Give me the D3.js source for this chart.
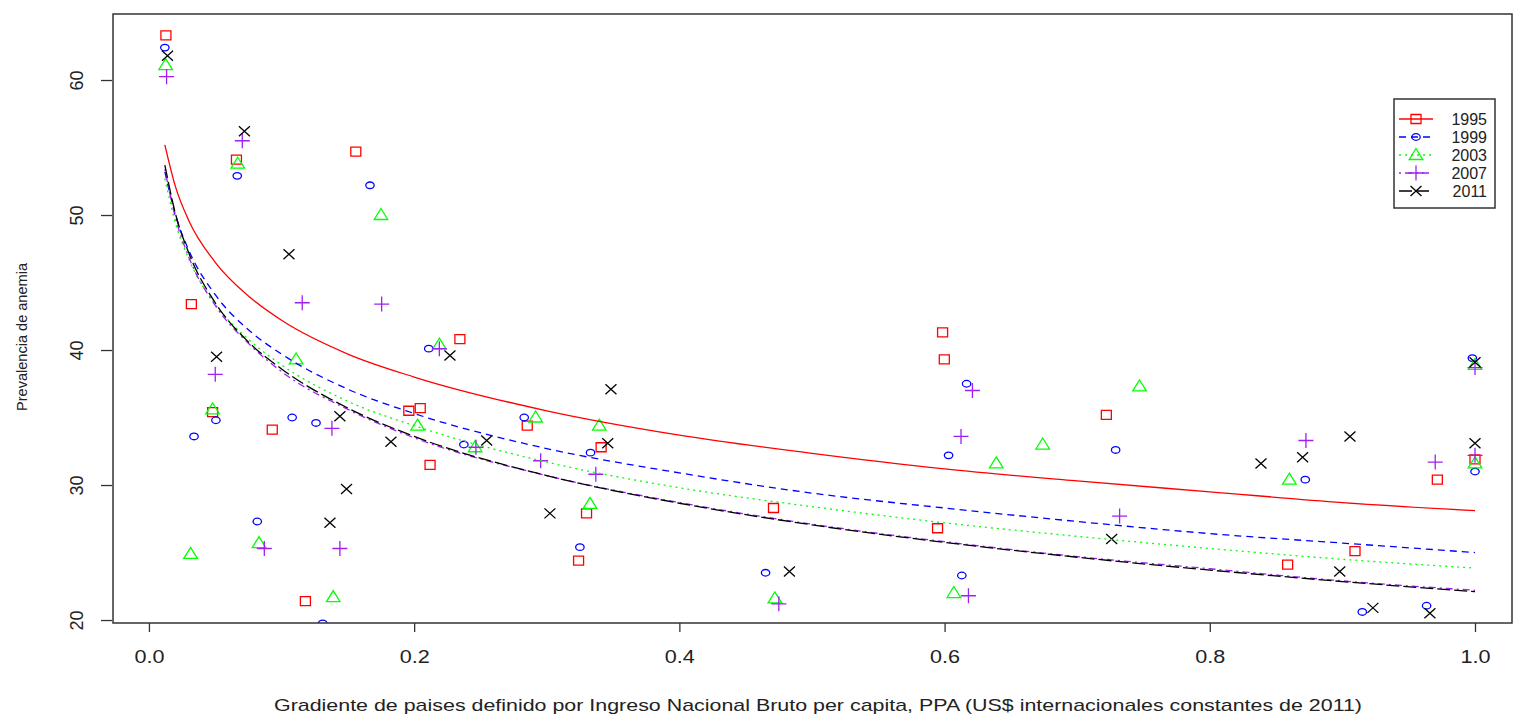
<!DOCTYPE html>
<html>
<head>
<meta charset="utf-8">
<script src="https://cdn.jsdelivr.net/npm/d3@7"></script>
<style>
  body { margin: 0; background: #fff; }
  text { font-family: "Liberation Sans", Arial, sans-serif; fill: #222; }
</style>
</head>
<body>
<svg id="chart" width="1514" height="718"></svg>
<script>
// series names, colours and line styles
var years = ['1995', '1999', '2003', '2007', '2011'];
var colors = ['#ff0000', '#0000ff', '#00ff00', '#a020f0', '#000000'];
var dashes = [null, '7,5', '2,4', '2,4,7,4', '13,4'];
var shapes = ['square', 'circle', 'triangle', 'plus', 'cross'];

// observed points per year (gradient, prevalence)
var x1995 = [0.0128, 0.032, 0.048, 0.066, 0.093, 0.118, 0.156, 0.196, 0.2046, 0.212, 0.2345, 0.2853,
  0.324, 0.330, 0.341, 0.471, 0.5947, 0.5985, 0.5998, 0.722, 0.8587, 0.9095, 0.9716, 1.0];
var y1995 = [63.3, 43.4, 35.4, 54.1, 34.1, 21.4, 54.7, 35.5, 35.7, 31.5, 40.8, 34.4,
  24.4, 27.9, 32.8, 28.3, 26.8, 41.3, 39.3, 35.2, 24.1, 25.1, 30.4, 31.9];

var x1999 = [0.012, 0.034, 0.0505, 0.0666, 0.0817, 0.108, 0.126, 0.131, 0.1667, 0.211, 0.2375, 0.283,
  0.325, 0.333, 0.465, 0.603, 0.613, 0.6166, 0.729, 0.872, 0.915, 0.9635, 0.998, 1.0];
var y1999 = [62.4, 33.6, 34.8, 52.9, 27.3, 35.0, 34.6, 19.75, 52.2, 40.1, 33.0, 35.0,
  25.4, 32.4, 23.5, 32.2, 23.3, 37.5, 32.6, 30.4, 20.6, 21.06, 39.4, 31.0];

var x2003 = [0.0126, 0.0314, 0.048, 0.067, 0.083, 0.111, 0.139, 0.175, 0.2026, 0.219, 0.246,
  0.2916, 0.3326, 0.3396, 0.472, 0.607, 0.639, 0.674, 0.747, 0.86, 1.0, 1.0];
var y2003 = [61.1, 24.9, 35.6, 53.8, 25.7, 39.3, 21.7, 50.0, 34.4, 40.4, 32.8,
  35.0, 28.6, 34.4, 21.6, 22.0, 31.6, 33.0, 37.3, 30.4, 38.9, 31.6];

var x2007 = [0.0133, 0.050, 0.0704, 0.087, 0.1156, 0.138, 0.144, 0.1755, 0.219, 0.2466, 0.2954,
  0.337, 0.475, 0.6124, 0.618, 0.621, 0.732, 0.8725, 0.970, 1.0, 1.0];
var y2007 = [60.25, 38.2, 55.5, 25.3, 43.5, 34.2, 25.3, 43.4, 40.1, 32.8, 31.8,
  30.8, 21.2, 33.6, 21.8, 37.0, 27.7, 33.3, 31.7, 38.7, 32.2];

var x2011 = [0.014, 0.051, 0.072, 0.1056, 0.1365, 0.144, 0.149, 0.1825, 0.227, 0.2547, 0.3024, 0.346,
  0.3484, 0.483, 0.726, 0.8386, 0.870, 0.898, 0.9057, 0.923, 0.966, 1.0, 1.0];
var y2011 = [61.8, 39.5, 56.2, 47.1, 27.2, 35.1, 29.7, 33.2, 39.6, 33.3, 27.9, 33.1,
  37.1, 23.6, 26.0, 31.6, 32.05, 23.6, 33.6, 20.9, 20.5, 39.1, 33.1];

// fitted curves at these gradient values
var fitX = [0.012, 0.02, 0.03, 0.05, 0.075, 0.1, 0.15, 0.2, 0.3, 0.4, 0.5, 0.6, 0.7, 0.8, 0.9, 1.0];
var fit1995 = [55.2, 52.1, 49.6, 46.5, 44.0, 42.2, 39.7, 38.0, 35.5, 33.7, 32.35, 31.2, 30.3, 29.5, 28.7, 28.1];
var fit1999 = [53.2, 50.0, 47.4, 44.1, 41.5, 39.7, 37.1, 35.3, 32.7, 30.9, 29.4, 28.3, 27.3, 26.4, 25.7, 25.0];
var fit2003 = [52.7, 49.4, 46.75, 43.4, 40.8, 38.9, 36.2, 34.4, 31.7, 29.8, 28.4, 27.2, 26.2, 25.3, 24.5, 23.85];
var fit2007 = [53.4, 49.8, 46.9, 43.3, 40.5, 38.4, 35.6, 33.5, 30.7, 28.7, 27.1, 25.8, 24.7, 23.8, 22.9, 22.2];
var fit2011 = [53.7, 50.1, 47.2, 43.5, 40.6, 38.6, 35.7, 33.6, 30.7, 28.65, 27.05, 25.75, 24.65, 23.7, 22.85, 22.1];

var xTicks = [0, 0.2, 0.4, 0.6, 0.8, 1.0];
var yTicks = [20, 30, 40, 50, 60];

var xTitle = 'Gradiente de paises definido por Ingreso Nacional Bruto per capita, PPA (US$ internacionales constantes de 2011)';
var yTitle = 'Prevalencia de anemia';

var pointsX = [x1995, x1999, x2003, x2007, x2011];
var pointsY = [y1995, y1999, y2003, y2007, y2011];
var fits = [fit1995, fit1999, fit2003, fit2007, fit2011];

var series = years.map(function(yr, i) {
  return {
    name: yr,
    color: colors[i],
    dash: dashes[i],
    shape: shapes[i],
    points: pointsX[i].map(function(v, j) { return {x: v, y: pointsY[i][j]}; }),
    fit: fitX.map(function(v, j) { return {x: v, y: fits[i][j]}; })
  };
});

var box = {left: 113, top: 14, right: 1512, bottom: 623};

var svg = d3.select('#chart');

var x = d3.scaleLinear().domain([-0.0271, 1.0279]).range([box.left, box.right]);
var y = d3.scaleLinear().domain([19.78, 64.89]).range([box.bottom, box.top]);

svg.append('defs').append('clipPath').attr('id', 'plotclip')
  .append('rect')
  .attr('x', box.left).attr('y', box.top)
  .attr('width', box.right - box.left).attr('height', box.bottom - box.top);

function symbolPath(shape) {
  if (shape == 'square') return 'M-5,-4.5H5V4.5H-5Z';
  if (shape == 'circle') return 'M-4.2,0A4.2,3.3 0 1,0 4.2,0A4.2,3.3 0 1,0 -4.2,0Z';
  if (shape == 'triangle') return 'M0,-6.5L6.8,4.5H-6.8Z';
  if (shape == 'plus') return 'M-7.5,0H7.5M0,-7.5V7.5';
  return 'M-5.5,-5L5.5,5M-5.5,5L5.5,-5';
}

var plot = svg.append('g').attr('clip-path', 'url(#plotclip)');

var line = d3.line()
  .x(function(d) { return x(d.x); })
  .y(function(d) { return y(d.y); })
  .curve(d3.curveMonotoneX);

series.forEach(function(s) {
  plot.append('g')
    .selectAll('path')
    .data(s.points)
    .enter()
    .append('path')
    .attr('transform', function(d) { return 'translate(' + x(d.x) + ',' + y(d.y) + ')'; })
    .attr('d', symbolPath(s.shape))
    .attr('fill', 'none')
    .attr('stroke', s.color)
    .attr('stroke-width', 1.3);
});

series.forEach(function(s) {
  plot.append('path')
    .datum(s.fit)
    .attr('d', line)
    .attr('fill', 'none')
    .attr('stroke', s.color)
    .attr('stroke-width', 1.3)
    .attr('stroke-dasharray', s.dash);
});

// frame
svg.append('rect')
  .attr('x', box.left).attr('y', box.top)
  .attr('width', box.right - box.left).attr('height', box.bottom - box.top)
  .attr('fill', 'none').attr('stroke', '#333').attr('stroke-width', 1.5);

var xAxis = svg.append('g')
  .attr('transform', 'translate(0,' + box.bottom + ')')
  .call(d3.axisBottom(x).tickValues(xTicks).tickFormat(d3.format('.1f')).tickSize(9).tickPadding(18));
xAxis.select('.domain').remove();
xAxis.selectAll('line').attr('stroke', '#333').attr('stroke-width', 1.3);
xAxis.selectAll('text')
  .attr('font-size', 18).attr('fill', '#222')
  .attr('transform', 'scale(1.2,1)')
  .style('font-family', '"Liberation Sans", Arial, sans-serif');

var yAxis = svg.append('g')
  .attr('transform', 'translate(' + (box.left - 1) + ',0)')
  .call(d3.axisLeft(y).tickValues(yTicks).tickSize(11));
yAxis.select('.domain').remove();
yAxis.selectAll('line').attr('stroke', '#333').attr('stroke-width', 1.3);
yAxis.selectAll('text')
  .attr('x', 0).attr('dy', 0)
  .attr('transform', 'translate(-29,0) rotate(-90)')
  .attr('text-anchor', 'middle')
  .attr('font-size', 18).attr('fill', '#222')
  .style('font-family', '"Liberation Sans", Arial, sans-serif');

svg.append('text')
  .attr('x', 818).attr('y', 711)
  .attr('text-anchor', 'middle')
  .attr('font-size', 17)
  .attr('textLength', 1088).attr('lengthAdjust', 'spacingAndGlyphs')
  .text(xTitle);

svg.append('text')
  .attr('transform', 'translate(27,337) rotate(-90)')
  .attr('text-anchor', 'middle')
  .attr('font-size', 15)
  .attr('textLength', 148).attr('lengthAdjust', 'spacingAndGlyphs')
  .text(yTitle);

// legend
var legend = svg.append('g');
legend.append('rect')
  .attr('x', 1394).attr('y', 99).attr('width', 101).attr('height', 109)
  .attr('fill', '#fff').attr('stroke', '#333').attr('stroke-width', 1.5);

var rows = legend.selectAll('g.row')
  .data(series)
  .enter()
  .append('g')
  .attr('class', 'row')
  .attr('transform', function(d, i) { return 'translate(0,' + (119 + i * 18) + ')'; });

rows.append('line')
  .attr('x1', 1399).attr('x2', 1433).attr('y1', 0).attr('y2', 0)
  .attr('stroke', function(d) { return d.color; })
  .attr('stroke-width', 1.3)
  .attr('stroke-dasharray', function(d) { return d.dash; });

rows.append('path')
  .attr('transform', 'translate(1416,0)')
  .attr('d', function(d) { return symbolPath(d.shape); })
  .attr('fill', 'none')
  .attr('stroke', function(d) { return d.color; })
  .attr('stroke-width', 1.3);

rows.append('text')
  .attr('x', 1487).attr('y', 6)
  .attr('text-anchor', 'end')
  .attr('font-size', 16)
  .text(function(d) { return d.name; });
</script>
</body>
</html>
